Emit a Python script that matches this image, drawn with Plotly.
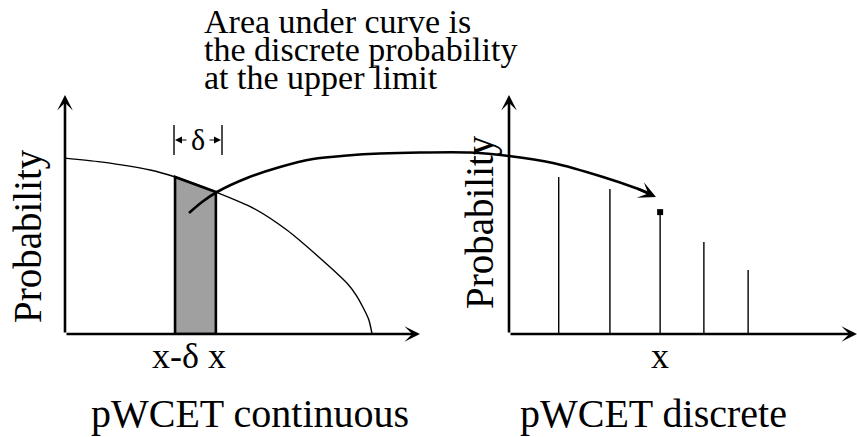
import plotly.graph_objects as go

W, H = 857, 437
FONT = "Liberation Serif, DejaVu Serif, serif"

# ---- continuous pWCET (left panel): execution time vs probability ----
curve_t = [0.0, 1.0, 2.4, 3.1, 4.25, 5.3, 6.25, 7.18, 7.94, 8.2, 8.39, 8.56, 8.65]
curve_p = [0.736, 0.72, 0.686, 0.657, 0.594, 0.527, 0.435, 0.318, 0.213, 0.163, 0.113, 0.059, 0.0]
bin_lo_idx, bin_hi_idx = 3, 4          # interval [x-delta, x]

# ---- discrete pWCET (right panel) ----
stem_t = [1.0, 2.03, 3.04, 3.92, 4.81]
stem_p = [0.657, 0.607, 0.510, 0.385, 0.268]
highlight_idx = 2

# ---- connector arc (overlay, pixel space) ----
arc_x = [189, 202, 217, 247, 280, 313, 347, 380, 420, 470, 509, 553, 603, 637, 648]
arc_y = [213, 202, 192, 178, 167, 159, 155.5, 153.5, 152.5, 152.5, 156, 163, 177, 188.5, 193]
arc_tip = (656, 197)

title_lines = ["Area under curve is", "the discrete probability", "at the upper limit"]

fig = go.Figure()

fig.add_trace(go.Scatter(x=curve_t, y=curve_p, mode="lines", line=dict(color="black", width=1.4, shape="spline", smoothing=0.7),
                         xaxis="x", yaxis="y", hoverinfo="skip"))
bx = [curve_t[bin_lo_idx], curve_t[bin_lo_idx], curve_t[bin_hi_idx], curve_t[bin_hi_idx], curve_t[bin_lo_idx]]
by = [0, curve_p[bin_lo_idx], curve_p[bin_hi_idx], 0, 0]
fig.add_trace(go.Scatter(x=bx, y=by, mode="lines", fill="toself", fillcolor="#a0a0a0",
                         line=dict(color="black", width=2.6), xaxis="x", yaxis="y", hoverinfo="skip"))

for t, p in zip(stem_t, stem_p):
    fig.add_trace(go.Scatter(x=[t, t], y=[0, p], mode="lines", line=dict(color="black", width=1.4),
                             xaxis="x2", yaxis="y2", hoverinfo="skip"))
fig.add_trace(go.Scatter(x=[stem_t[highlight_idx]], y=[stem_p[highlight_idx]], mode="markers",
                         marker=dict(symbol="square", size=6, color="black"), cliponaxis=False,
                         xaxis="x2", yaxis="y2", hoverinfo="skip"))

fig.add_trace(go.Scatter(x=arc_x, y=arc_y, mode="lines", line=dict(color="black", width=2.6, shape="spline", smoothing=0.8),
                         xaxis="x3", yaxis="y3", hoverinfo="skip"))

for bxp in [174, 222]:
    fig.add_trace(go.Scatter(x=[bxp, bxp], y=[125, 155], mode="lines", line=dict(color="black", width=1.4),
                             xaxis="x3", yaxis="y3", hoverinfo="skip"))

ax_common = dict(visible=False, fixedrange=True)
y_dom = [1 - 334 / H, 1 - 95 / H]
fig.update_layout(
    width=W, height=H, margin=dict(l=0, r=0, t=0, b=0), showlegend=False,
    paper_bgcolor="white", plot_bgcolor="rgba(0,0,0,0)",
    xaxis=dict(domain=[65 / W, 420 / W], range=[0, 10], anchor="y", **ax_common),
    yaxis=dict(domain=y_dom, range=[0, 1], anchor="x", **ax_common),
    xaxis2=dict(domain=[509 / W, 1.0], range=[0, 7], anchor="y2", **ax_common),
    yaxis2=dict(domain=y_dom, range=[0, 1], anchor="x2", **ax_common),
    xaxis3=dict(domain=[0, 1], range=[0, W], anchor="y3", **ax_common),
    yaxis3=dict(domain=[0, 1], range=[H, 0], anchor="x3", **ax_common),
)

ann = []
def arrow(xr, yr, x, y, ax, ay, w=2.6, head=3, size=1.0):
    ann.append(dict(xref=xr, yref=yr, axref=xr, ayref=yr, x=x, y=y, ax=ax, ay=ay, text="",
                    showarrow=True, arrowhead=head, arrowwidth=w, arrowsize=size, arrowcolor="black"))

arrow("x", "y", 0, 1, 0, 0)
arrow("x", "y", 10, 0, 0, 0)
arrow("x2", "y2", 0, 1, 0, 0)
arrow("x2", "y2", 7, 0, 0, 0)
arrow("x3", "y3", arc_tip[0], arc_tip[1], 636, 188, w=2.6, head=3, size=1.1)
arrow("x3", "y3", 175, 140, 188, 140, w=1.0, head=2, size=1.4)
arrow("x3", "y3", 221, 140, 208, 140, w=1.0, head=2, size=1.4)

def txt(s, x, y, size, xanchor="center", angle=0):
    ann.append(dict(xref="x3", yref="y3", x=x, y=y, text=s, showarrow=False, xanchor=xanchor, yanchor="middle",
                    textangle=angle, font=dict(family=FONT, size=size, color="black")))

for i, line in enumerate(title_lines):
    txt(line, 202, 21 + 28 * i, 34, xanchor="left")
txt("δ", 198, 139, 30)
txt("Probability", 28, 236, 39, angle=-90)
txt("Probability", 480, 222, 39, angle=-90)
txt("x-δ x", 189, 356, 36)
txt("x", 660, 356, 36)
txt("pWCET continuous", 250, 413, 40)
txt("pWCET discrete", 653, 413, 40)

fig.update_layout(annotations=ann)
fig.write_html("out.html", config={"displayModeBar": False},
               post_script="document.body.style.margin='0px';document.body.style.overflow='hidden';")
